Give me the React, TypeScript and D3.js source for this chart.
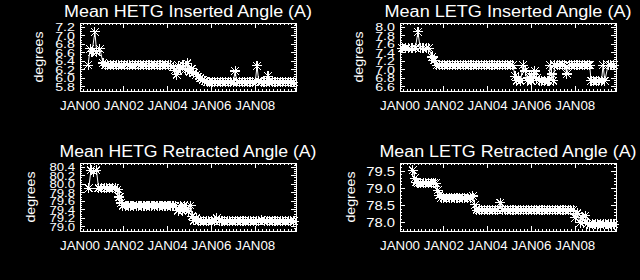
import React from "react";
import * as d3 from "d3";

type Pt = [number, number];

// ---- axis labels ----
const xTickYears = [2000, 2002, 2004, 2006, 2008];
const xTickLabels = ["JAN00", "JAN02", "JAN04", "JAN06", "JAN08"];
const hetgInsTicks = [5.8, 6.0, 6.2, 6.4, 6.6, 6.8, 7.0, 7.2];
const letgInsTicks = [6.6, 6.8, 7.0, 7.2, 7.4, 7.6, 7.8, 8.0];
const hetgRetTicks = [79.0, 79.2, 79.4, 79.6, 79.8, 80.0, 80.2, 80.4];
const letgRetTicks = [78.0, 78.5, 79.0, 79.5];

// ---- data (time in decimal years, angle in degrees) ----
const hetgInserted: Pt[] = [
  [2000.37, 6.31], [2000.46, 6.69], [2000.55, 6.62], [2000.68, 7.09], [2000.76, 6.62], [2000.91, 6.69], [2001.05, 6.36],
  [2001.15, 6.31], [2001.27, 6.31], [2001.4, 6.31], [2001.52, 6.31], [2001.65, 6.31], [2001.77, 6.31], [2001.9, 6.31],
  [2002.02, 6.31], [2002.15, 6.31], [2002.27, 6.31], [2002.4, 6.31], [2002.52, 6.31], [2002.65, 6.31], [2002.77, 6.31],
  [2002.9, 6.31], [2003.02, 6.31], [2003.15, 6.31], [2003.27, 6.31], [2003.4, 6.31], [2003.52, 6.31], [2003.65, 6.31],
  [2003.77, 6.31], [2003.9, 6.31], [2004.02, 6.31], [2004.15, 6.31],
  [2004.25, 6.27], [2004.33, 6.19], [2004.42, 6.08], [2004.5, 6.3], [2004.6, 6.22], [2004.7, 6.31], [2004.8, 6.2],
  [2004.9, 6.35], [2005.0, 6.15], [2005.1, 6.22], [2005.2, 6.13], [2005.3, 6.08], [2005.4, 6.04], [2005.5, 6.0],
  [2005.6, 5.96], [2005.7, 5.93], [2005.8, 5.91],
  [2005.92, 5.91], [2006.04, 5.91], [2006.16, 5.91], [2006.28, 5.91], [2006.4, 5.91], [2006.52, 5.91], [2006.64, 5.91],
  [2006.76, 5.91], [2006.88, 5.91], [2007.0, 5.91], [2007.08, 6.17], [2007.16, 5.91], [2007.28, 5.91], [2007.4, 5.91],
  [2007.52, 5.91], [2007.64, 5.91], [2007.76, 5.91], [2007.88, 5.91], [2008.0, 5.91], [2008.08, 6.29], [2008.16, 5.93],
  [2008.28, 5.91], [2008.4, 5.91], [2008.5, 5.91], [2008.58, 6.05], [2008.66, 5.91], [2008.78, 5.91], [2008.9, 5.91],
  [2009.02, 5.91], [2009.14, 5.91], [2009.26, 5.91], [2009.38, 5.91], [2009.5, 5.91], [2009.62, 5.91], [2009.74, 5.91],
];

const letgInserted: Pt[] = [
  [2000.1, 7.51], [2000.25, 7.51], [2000.4, 7.51], [2000.55, 7.51], [2000.7, 7.51], [2000.82, 7.89], [2000.92, 7.51],
  [2001.05, 7.51], [2001.2, 7.51], [2001.32, 7.51], [2001.46, 7.3], [2001.56, 7.22], [2001.68, 7.11],
  [2001.8, 7.11], [2001.92, 7.11], [2002.04, 7.11], [2002.16, 7.11], [2002.28, 7.11], [2002.4, 7.11], [2002.52, 7.11],
  [2002.64, 7.11], [2002.76, 7.11], [2002.88, 7.11], [2003.0, 7.11], [2003.12, 7.11], [2003.24, 7.11], [2003.36, 7.11],
  [2003.48, 7.11], [2003.6, 7.11], [2003.72, 7.11], [2003.84, 7.11], [2003.96, 7.11], [2004.08, 7.11], [2004.2, 7.11],
  [2004.32, 7.11], [2004.44, 7.11], [2004.56, 7.11], [2004.68, 7.11], [2004.8, 7.11], [2004.92, 7.11], [2005.04, 7.11],
  [2005.15, 7.11], [2005.25, 6.85], [2005.33, 6.74], [2005.42, 6.8], [2005.5, 6.74], [2005.62, 7.11], [2005.71, 6.97],
  [2005.8, 6.74], [2005.9, 6.82], [2006.0, 6.74], [2006.08, 6.9], [2006.16, 6.97], [2006.25, 6.8], [2006.35, 6.74],
  [2006.47, 6.74], [2006.6, 6.74], [2006.72, 6.74], [2006.8, 6.74], [2006.85, 7.11], [2006.93, 6.9], [2007.0, 6.74],
  [2007.06, 7.11], [2007.18, 7.11], [2007.3, 7.11], [2007.42, 7.11], [2007.52, 7.11], [2007.62, 6.9], [2007.72, 7.11],
  [2007.84, 7.11], [2007.96, 7.11], [2008.08, 7.11], [2008.2, 7.11], [2008.32, 7.11], [2008.44, 7.11], [2008.56, 7.11],
  [2008.66, 7.11], [2008.72, 6.74], [2008.84, 6.74], [2008.96, 6.74], [2009.08, 6.74], [2009.2, 6.74], [2009.27, 7.11],
  [2009.35, 6.74], [2009.5, 7.11], [2009.62, 7.11], [2009.76, 7.11],
];

const hetgRetracted: Pt[] = [
  [2000.4, 79.91], [2000.5, 80.33], [2000.62, 80.3], [2000.75, 80.33], [2000.85, 79.91], [2000.97, 79.91],
  [2001.1, 79.91], [2001.22, 79.91], [2001.35, 79.91], [2001.48, 79.91], [2001.6, 79.91], [2001.72, 79.88],
  [2001.8, 79.7], [2001.88, 79.56], [2001.96, 79.5],
  [2002.08, 79.5], [2002.2, 79.5], [2002.32, 79.5], [2002.44, 79.5], [2002.56, 79.5], [2002.68, 79.5], [2002.8, 79.5],
  [2002.92, 79.5], [2003.04, 79.5], [2003.16, 79.5], [2003.28, 79.5], [2003.4, 79.5], [2003.52, 79.5], [2003.64, 79.5],
  [2003.76, 79.5], [2003.88, 79.5], [2004.0, 79.5], [2004.12, 79.5], [2004.24, 79.5], [2004.36, 79.5],
  [2004.48, 79.38], [2004.58, 79.5], [2004.66, 79.38], [2004.76, 79.5], [2004.86, 79.42], [2004.95, 79.36],
  [2005.05, 79.5], [2005.12, 79.25], [2005.2, 79.15], [2005.3, 79.2], [2005.4, 79.13],
  [2005.52, 79.13], [2005.64, 79.13], [2005.76, 79.13], [2005.88, 79.13], [2006.0, 79.13], [2006.12, 79.13],
  [2006.25, 79.2], [2006.36, 79.13], [2006.48, 79.13], [2006.6, 79.13], [2006.72, 79.13], [2006.84, 79.13],
  [2006.96, 79.13], [2007.08, 79.13], [2007.2, 79.13], [2007.32, 79.13], [2007.44, 79.13], [2007.56, 79.13],
  [2007.68, 79.13], [2007.8, 79.13], [2007.92, 79.13], [2008.04, 79.13], [2008.16, 79.13], [2008.3, 79.16],
  [2008.42, 79.13], [2008.54, 79.13], [2008.66, 79.13], [2008.78, 79.13], [2008.9, 79.13], [2009.02, 79.13],
  [2009.14, 79.13], [2009.26, 79.13], [2009.38, 79.13], [2009.5, 79.13], [2009.62, 79.13], [2009.76, 79.13],
];

const letgRetracted: Pt[] = [
  [2000.59, 79.53], [2000.68, 79.3], [2000.74, 79.18], [2000.82, 79.15], [2000.94, 79.15], [2001.06, 79.15],
  [2001.18, 79.15], [2001.3, 79.15], [2001.42, 79.15], [2001.54, 79.15], [2001.64, 79.15],
  [2001.72, 78.95], [2001.8, 78.8], [2001.88, 78.73],
  [2002.0, 78.73], [2002.12, 78.73], [2002.24, 78.73], [2002.36, 78.73], [2002.48, 78.73], [2002.6, 78.73],
  [2002.72, 78.73], [2002.84, 78.73], [2002.96, 78.73], [2003.08, 78.73], [2003.2, 78.73],
  [2003.33, 78.78], [2003.42, 78.52], [2003.5, 78.37],
  [2003.62, 78.37], [2003.74, 78.37], [2003.86, 78.37], [2003.98, 78.37], [2004.1, 78.37], [2004.22, 78.37],
  [2004.34, 78.37], [2004.46, 78.37], [2004.57, 78.58], [2004.68, 78.37], [2004.8, 78.37], [2004.92, 78.37],
  [2005.04, 78.37], [2005.16, 78.37], [2005.28, 78.37], [2005.4, 78.37], [2005.52, 78.37], [2005.64, 78.37],
  [2005.76, 78.37], [2005.88, 78.37], [2006.0, 78.37], [2006.12, 78.37], [2006.24, 78.37], [2006.36, 78.37],
  [2006.48, 78.37], [2006.6, 78.37], [2006.72, 78.37], [2006.84, 78.37], [2006.96, 78.37], [2007.08, 78.37],
  [2007.2, 78.37], [2007.32, 78.37], [2007.44, 78.37], [2007.56, 78.37], [2007.68, 78.37], [2007.8, 78.37],
  [2007.9, 78.37], [2008.0, 78.14], [2008.1, 78.28], [2008.22, 78.0], [2008.33, 78.15], [2008.45, 78.2],
  [2008.55, 77.97], [2008.67, 77.95], [2008.79, 77.95], [2008.91, 77.95], [2009.03, 77.95], [2009.15, 77.95],
  [2009.27, 77.95], [2009.39, 77.95], [2009.51, 77.95], [2009.63, 77.95], [2009.76, 77.95],
];

const X_DOMAIN: [number, number] = [2000, 2009.86];
const FONT = "'Liberation Sans', 'DejaVu Sans', sans-serif";

interface PanelProps {
  title: string;
  titleWidth: number;
  data: Pt[];
  yDomain: [number, number];
  yTicks: number[];
  yMinorStep: number;
  yFmt: string;
  yFontSize: number;
  yCharW: number;
  x0: number;
  x1: number;
  y0: number;
  y1: number;
  degX: number;
}

function Star({ x, y }: { x: number; y: number }) {
  const r = 5;
  const d = 3.8;
  return (
    <g stroke="#fff" strokeWidth={1.1} shapeRendering="crispEdges">
      <line x1={x - r} y1={y} x2={x + r} y2={y} />
      <line x1={x} y1={y - r} x2={x} y2={y + r} />
      <line x1={x - d} y1={y - d} x2={x + d} y2={y + d} />
      <line x1={x - d} y1={y + d} x2={x + d} y2={y - d} />
    </g>
  );
}

function Panel(p: PanelProps) {
  const x = d3.scaleLinear().domain(X_DOMAIN).range([p.x0, p.x1]);
  const y = d3.scaleLinear().domain(p.yDomain).range([p.y1, p.y0]);
  const line = d3
    .line<Pt>()
    .x((d) => x(d[0]))
    .y((d) => y(d[1]));
  const fmt = d3.format(p.yFmt);

  const xMinor = d3.range(X_DOMAIN[0], X_DOMAIN[1], 1 / 6);
  const yStart = Math.ceil(p.yDomain[0] / p.yMinorStep) * p.yMinorStep;
  const yMinor = d3.range(yStart, p.yDomain[1], p.yMinorStep);
  const cx = (p.x0 + p.x1) / 2;
  const cy = (p.y0 + p.y1) / 2;

  return (
    <g fontFamily={FONT} fill="#fff">
      <text x={cx} y={p.y0 - 6} fontSize={16} textAnchor="middle" textLength={p.titleWidth} lengthAdjust="spacingAndGlyphs">
        {p.title}
      </text>
      <text
        transform={`translate(${p.degX},${cy}) rotate(-90)`}
        fontSize={13}
        textAnchor="middle"
        dy="0.35em"
        textLength={51}
        lengthAdjust="spacingAndGlyphs"
      >
        degrees
      </text>
      <g stroke="#fff" strokeWidth={1} shapeRendering="crispEdges" fill="none">
        <rect x={p.x0} y={p.y0} width={p.x1 - p.x0} height={p.y1 - p.y0} />
        {xMinor.map((t, i) => (
          <g key={"xm" + i}>
            <line x1={x(t)} x2={x(t)} y1={p.y1} y2={p.y1 - 2} />
            <line x1={x(t)} x2={x(t)} y1={p.y0} y2={p.y0 + 2} />
          </g>
        ))}
        {xTickYears.map((t, i) => (
          <g key={"xM" + i}>
            <line x1={x(t)} x2={x(t)} y1={p.y1} y2={p.y1 - 5} />
            <line x1={x(t)} x2={x(t)} y1={p.y0} y2={p.y0 + 5} />
          </g>
        ))}
        {yMinor.map((v, i) => (
          <g key={"ym" + i}>
            <line x1={p.x0} x2={p.x0 + 2} y1={y(v)} y2={y(v)} />
            <line x1={p.x1} x2={p.x1 - 2} y1={y(v)} y2={y(v)} />
          </g>
        ))}
        {p.yTicks.map((v, i) => (
          <g key={"yM" + i}>
            <line x1={p.x0} x2={p.x0 + 5} y1={y(v)} y2={y(v)} />
            <line x1={p.x1} x2={p.x1 - 5} y1={y(v)} y2={y(v)} />
          </g>
        ))}
      </g>
      {p.yTicks.map((v, i) => {
        const s = fmt(v);
        return (
          <text
            key={"yl" + i}
            x={p.x0 - 5}
            y={y(v)}
            dy="0.36em"
            fontSize={p.yFontSize}
            textAnchor="end"
            textLength={s.length * p.yCharW}
            lengthAdjust="spacingAndGlyphs"
          >
            {s}
          </text>
        );
      })}
      {xTickYears.map((t, i) => (
        <text key={"xl" + i} x={x(t)} y={p.y1 + 19} fontSize={12} textAnchor="middle" textLength={40} lengthAdjust="spacingAndGlyphs">
          {xTickLabels[i]}
        </text>
      ))}
      <path d={line(p.data) || ""} stroke="#fff" strokeWidth={1} fill="none" />
      {p.data.map((d, i) => (
        <Star key={"s" + i} x={x(d[0])} y={y(d[1])} />
      ))}
    </g>
  );
}

export default function App() {
  return (
    <svg
      width={640}
      height={280}
      style={{ position: "absolute", left: 0, top: 0, display: "block", background: "#000" }}
    >
      <rect x={0} y={0} width={640} height={280} fill="#000" />
      <Panel
        title="Mean HETG Inserted Angle (A)"
        titleWidth={248}
        data={hetgInserted}
        yDomain={[5.7, 7.3]}
        yTicks={hetgInsTicks}
        yMinorStep={0.05}
        yFmt=".1f"
        yFontSize={11.5}
        yCharW={6.6}
        x0={80}
        x1={296}
        y0={23}
        y1={91}
        degX={38}
      />
      <Panel
        title="Mean LETG Inserted Angle (A)"
        titleWidth={247}
        data={letgInserted}
        yDomain={[6.5, 8.1]}
        yTicks={letgInsTicks}
        yMinorStep={0.05}
        yFmt=".1f"
        yFontSize={11.5}
        yCharW={6.6}
        x0={400}
        x1={616}
        y0={23}
        y1={91}
        degX={358}
      />
      <Panel
        title="Mean HETG Retracted Angle (A)"
        titleWidth={257}
        data={hetgRetracted}
        yDomain={[78.9, 80.5]}
        yTicks={hetgRetTicks}
        yMinorStep={0.05}
        yFmt=".1f"
        yFontSize={11.5}
        yCharW={6.4}
        x0={80}
        x1={296}
        y0={163}
        y1={231}
        degX={30}
      />
      <Panel
        title="Mean LETG Retracted Angle (A)"
        titleWidth={257}
        data={letgRetracted}
        yDomain={[77.76, 79.74]}
        yTicks={letgRetTicks}
        yMinorStep={0.1}
        yFmt=".1f"
        yFontSize={13}
        yCharW={7.2}
        x0={400}
        x1={616}
        y0={163}
        y1={231}
        degX={350}
      />
    </svg>
  );
}
